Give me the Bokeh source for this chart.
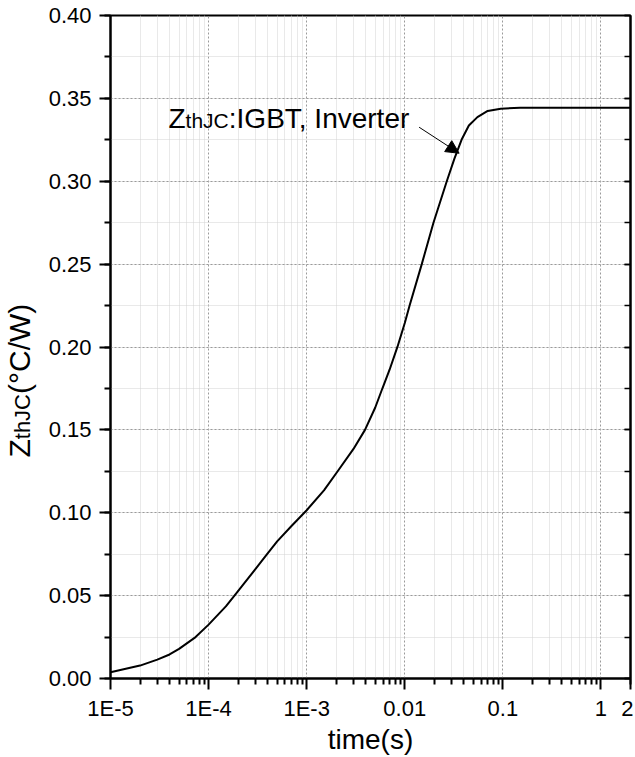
import math
from bokeh.plotting import figure
from bokeh.layouts import row
from bokeh.models import (Range1d, FixedTicker, SingleIntervalTicker, PrintfTickFormatter,
                          CustomJSTickFormatter, LinearAxis, Label, Arrow, NormalHead)
from bokeh.core.properties import value
from bokeh.embed import file_html
from bokeh.resources import INLINE

# ---- data ----
time_s = [1e-5, 2e-5, 3e-5, 4e-5, 5e-5, 7.37e-5, 1e-4, 1.5e-4, 1.81e-4, 3e-4, 3.91e-4, 5e-4,
          7e-4, 1e-3, 1.5e-3, 2.06e-3, 3e-3, 3.93e-3, 5e-3, 5.92e-3, 7e-3, 8.43e-3, 1e-2,
          1.12e-2, 1.49e-2, 1.96e-2, 2.68e-2, 3.2e-2, 3.79e-2, 4.5e-2, 5.5e-2, 7e-2, 9.5e-2,
          0.15, 0.3, 1.0, 2.0]
zth = [0.0038, 0.0078, 0.0114, 0.0145, 0.0179, 0.0250, 0.0325, 0.0435, 0.0496, 0.0660, 0.0747,
       0.0827, 0.0920, 0.1015, 0.1135, 0.1249, 0.1385, 0.1500, 0.1635, 0.1751, 0.1863, 0.2002,
       0.2145, 0.2250, 0.2500, 0.2750, 0.3000, 0.3135, 0.3250, 0.3336, 0.3387, 0.3424, 0.3438,
       0.3444, 0.3444, 0.3444, 0.3444]

x_major_ticks = [1e-5, 1e-4, 1e-3, 1e-2, 1e-1, 1.0, 2.0]
x_major_labels = ["1E-5", "1E-4", "1E-3", "0.01", "0.1", "1", "2"]
x_minor_ticks = [k * 10.0 ** d for d in range(-5, 1) for k in range(2, 10)]

annot_x = 1e-5                     # anchor at the frame's left edge
annot_y_big, annot_y_small = 0.3379, 0.3365   # vertical middles of the curve label parts
arrow_from = (0.0140, 0.3326)
arrow_to = (0.0358, 0.3169)

# y-axis title parts: (text, font size, x in strip px, middle along the y axis in data units)
ytitle_parts = [("Z", "30px", 18.9, 0.1389), ("thJC", "22px", 21.7, 0.1580),
                ("(°C/W)", "30px", 18.9, 0.1989)]

FONT = "Liberation Sans"
W, H = 633, 757
TITLE_W = 45
Y_LO, Y_HI = 0.0, 0.40

# ---- narrow strip holding the rotated y-axis title (its frame aligns with the chart's) ----
strip = figure(width=TITLE_W, height=H, x_range=Range1d(0, TITLE_W), y_range=Range1d(Y_LO, Y_HI),
               output_backend="svg", toolbar_location=None, min_border=0,
               x_axis_location=None, y_axis_location=None)
strip.outline_line_color = None
strip.background_fill_color = "white"
strip.border_fill_color = "white"
strip.xgrid.visible = False
strip.ygrid.visible = False
for txt, size, xx, yy in ytitle_parts:
    strip.text(x=[xx], y=[yy], text=[txt], angle=math.pi / 2,
               text_font=value(FONT), text_font_size=size, text_color="black",
               text_baseline="middle", text_align="center")

# ---- main chart ----
p = figure(width=W - TITLE_W, height=H, x_axis_type="log",
           x_range=Range1d(1e-5, 2.0), y_range=Range1d(Y_LO, Y_HI),
           output_backend="svg", toolbar_location=None,
           min_border_left=110 - TITLE_W, min_border_right=3, min_border_top=15,
           min_border_bottom=78)
p.background_fill_color = "white"
p.border_fill_color = "white"
p.outline_line_color = "black"
p.outline_line_width = 2
p.outline_line_alpha = 1.0

# curve
p.line(time_s, zth, line_color="black", line_width=2)

# x axis
xa = p.xaxis[0]
xa.ticker = FixedTicker(ticks=x_major_ticks, minor_ticks=x_minor_ticks)
xa.formatter = CustomJSTickFormatter(args=dict(t=x_major_ticks, l=x_major_labels), code="""
for (let i = 0; i < t.length; i++) {
  if (Math.abs(Math.log10(tick) - Math.log10(t[i])) < 1e-6) { return l[i]; }
}
return '';
""")
xa.axis_label = "time(s)"
for ax in (xa, p.yaxis[0]):
    ax.axis_line_width = 2
    ax.axis_line_color = "black"
    ax.major_tick_out = 11
    ax.major_tick_in = 0
    ax.minor_tick_out = 6
    ax.minor_tick_in = 0
    ax.major_tick_line_width = 2
    ax.minor_tick_line_width = 2
    ax.major_tick_line_color = "black"
    ax.minor_tick_line_color = "black"
    ax.major_label_text_font = FONT
    ax.major_label_text_font_size = "22px"
    ax.major_label_text_color = "black"
    ax.major_label_standoff = 8
    ax.axis_label_text_font = FONT
    ax.axis_label_text_font_style = "normal"
    ax.axis_label_text_font_size = "28px"
    ax.axis_label_text_color = "black"
xa.major_label_standoff = 6
xa.axis_label_standoff = 0

ya = p.yaxis[0]
ya.ticker = SingleIntervalTicker(interval=0.05, num_minor_ticks=2)
ya.formatter = PrintfTickFormatter(format="%.2f")

# right axis with inward ticks only
ra = LinearAxis(ticker=SingleIntervalTicker(interval=0.05, num_minor_ticks=2),
                formatter=CustomJSTickFormatter(code="return '';"),
                major_label_standoff=0,
                major_tick_out=0, major_tick_in=6, minor_tick_out=0, minor_tick_in=6,
                axis_line_width=2, major_tick_line_width=1.5, minor_tick_line_width=1.5)
p.add_layout(ra, "right")

# grids
p.xgrid.ticker = FixedTicker(ticks=x_major_ticks, minor_ticks=x_minor_ticks)
p.ygrid.ticker = SingleIntervalTicker(interval=0.05, num_minor_ticks=2)
for g in (p.xgrid[0], p.ygrid[0]):
    g.grid_line_color = "#9a9a9a"
    g.grid_line_dash = "2 2"
    g.grid_line_width = 1
    g.minor_grid_line_color = "#d2d2d2"
    g.minor_grid_line_dash = "1 1"
    g.minor_grid_line_width = 1

# curve label with smaller "thJC"
for txt, size, off, yy in [("Z", "28px", 58, annot_y_big), ("thJC", "21px", 75.1, annot_y_small),
                           (":IGBT, Inverter", "28px", 118.3, annot_y_big)]:
    p.add_layout(Label(x=annot_x, y=yy, x_offset=off, text=txt, text_font=FONT,
                       text_font_size=size, text_color="black", text_baseline="middle",
                       text_align="left"))
p.add_layout(Arrow(end=NormalHead(size=13, fill_color="black", line_color="black", line_width=1),
                   x_start=arrow_from[0], y_start=arrow_from[1],
                   x_end=arrow_to[0], y_end=arrow_to[1], line_width=1, line_color="black"))

layout = row(strip, p, spacing=0)
open("out.html", "w").write(file_html(layout, INLINE))
